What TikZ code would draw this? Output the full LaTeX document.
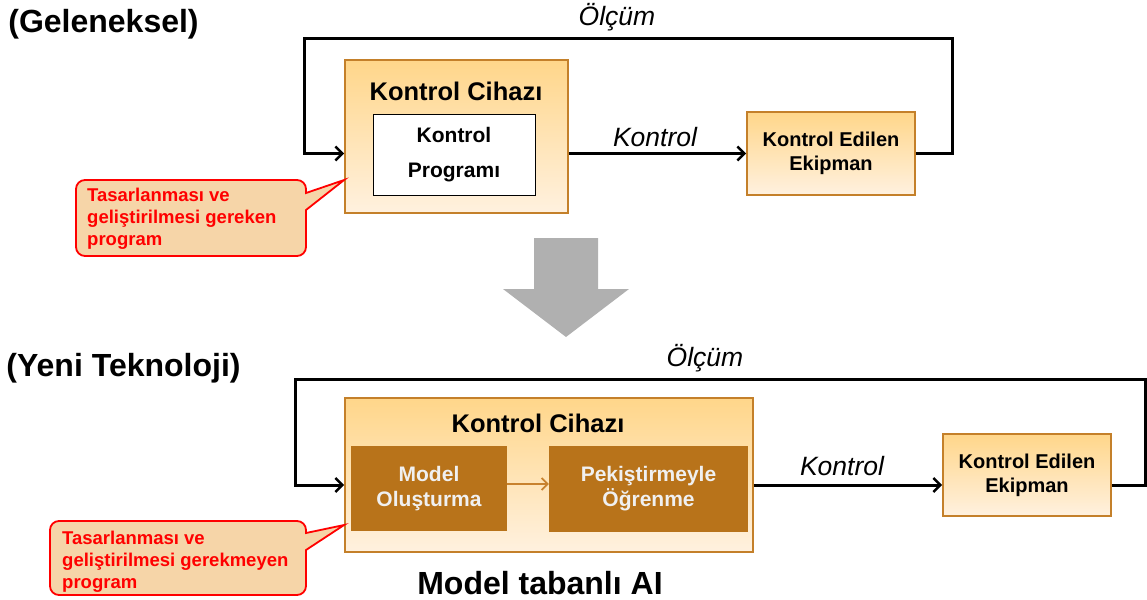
\documentclass[tikz,border=0pt]{standalone}
\usepackage{fontspec}
\setmainfont{Liberation Sans}
\usetikzlibrary{arrows.meta}
\definecolor{boxtop}{HTML}{FFD68A}
\definecolor{boxbot}{HTML}{FFF1DF}
\definecolor{boxline}{HTML}{C4802A}
\definecolor{darkbox}{HTML}{B8731A}
\definecolor{darktext}{HTML}{F0F0F0}
\definecolor{innerarrow}{HTML}{C8822E}
\definecolor{calloutfill}{HTML}{F6D5A8}
\definecolor{calloutred}{HTML}{FF0000}
\definecolor{bigarrow}{HTML}{B0B0B0}
\begin{document}
\begin{tikzpicture}[x=1pt,y=-1pt,
  orangebox/.style={draw=boxline, line width=1.8pt, top color=boxtop, bottom color=boxbot, inner sep=0pt},
  whitebox/.style={draw=black, line width=1pt, fill=white, inner sep=0pt, align=center, font=\fontsize{21}{35}\bfseries\selectfont},
  darkbox/.style={fill=darkbox, draw=none, inner sep=0pt, align=center, text=darktext, font=\fontsize{21}{25}\bfseries\selectfont},
  eqtext/.style={align=center, font=\fontsize{20}{24}\bfseries\selectfont},
  boxtitle/.style={font=\fontsize{25.5}{30}\bfseries\selectfont},
  sectitle/.style={font=\fontsize{32}{38}\bfseries\selectfont},
  itlabel/.style={font=\fontsize{26.5}{30}\itshape\selectfont},
  flowline/.style={draw=black, line width=3pt, -{Straight Barb[length=7pt,width=14pt,line width=2.4pt]}},
  callouttext/.style={align=left, anchor=west, text=calloutred, inner sep=0pt, font=\fontsize{18.5}{22}\bfseries\selectfont},
  calloutshape/.style={draw=calloutred, fill=calloutfill, line width=1.8pt, line join=miter}
]
\useasboundingbox (0,0) rectangle (1147,599);

% ===== Traditional =====
\node[sectitle] (t1) at (103.5,24) {(Geleneksel)};

\node[orangebox, minimum width=223pt, minimum height=153pt] (box1) at (456.5,136.5) {};
\node[boxtitle] (box1t) at (456,91) {Kontrol Cihazı};
\node[whitebox, minimum width=162pt, minimum height=80pt] (prog) at (454,155) {Kontrol\\Programı};

\node[orangebox, eqtext, minimum width=168pt, minimum height=83pt] (eq1) at (831,153.5) {Kontrol Edilen\\Ekipman};

\coordinate (r1) at (952,39);
\coordinate (l1) at (304,39);
\draw[flowline] (box1.east |- eq1.west) -- (eq1.west);
\draw[flowline] (eq1.east) -| (r1) -- (l1) |- (box1.west |- eq1.west);
\node[itlabel] (ol1) at (617,17) {Ölçüm};
\node[itlabel] (k1) at (655,137) {Kontrol};

% callout 1
\draw[calloutshape]
  [rounded corners=9pt] (76,180) -- (306,180) [sharp corners] -- (306,193)
  -- (box1.west |- 0,180) -- (306,210)
  [rounded corners=9pt] -- (306,256) -- (76,256) -- cycle;
\node[callouttext] (ct1) at (87,219) {Tasarlanması ve\\geliştirilmesi gereken\\program};

% big arrow
\fill[bigarrow] (534,238) -- (598,238) -- (598,289) -- (629,289) -- (566,337) -- (503,289) -- (534,289) -- cycle;

% ===== New technology =====
\node[sectitle] (t2) at (123.5,368) {(Yeni Teknoloji)};

\node[orangebox, minimum width=408pt, minimum height=154pt] (box2) at (549,475) {};
\node[boxtitle] (box2t) at (538,423) {Kontrol Cihazı};
\node[darkbox, minimum width=156pt, minimum height=85pt] (mo) at (429,488.5) {Model\\Oluşturma};
\node[darkbox, minimum width=199pt, minimum height=86pt] (pe) at (648.5,489) {Pekiştirmeyle\\Öğrenme};
\coordinate (c2) at (700,484);
\draw[draw=innerarrow, line width=2pt, -{Straight Barb[length=6pt,width=12pt,line width=1.8pt]}] (mo.east |- c2) -- (pe.west |- c2);

\node[orangebox, eqtext, minimum width=168pt, minimum height=82pt] (eq2) at (1027,475) {Kontrol Edilen\\Ekipman};

\coordinate (c3) at (900,485);
\coordinate (r2) at (1145,379);
\coordinate (l2) at (295,379);
\draw[flowline] (box2.east |- c3) -- (eq2.west |- c3);
\draw[flowline] (eq2.east |- c3) -| (r2) -- (l2) |- (box2.west |- c3);
\node[itlabel] (ol2) at (705,358) {Ölçüm};
\node[itlabel] (k2) at (842,466) {Kontrol};

\node[sectitle] (mai) at (540,583) {Model tabanlı AI};

% callout 2
\draw[calloutshape]
  [rounded corners=9pt] (50,521) -- (306,521) [sharp corners] -- (306,533)
  -- (box2.west |- 0,525) -- (306,550)
  [rounded corners=9pt] -- (306,595) -- (50,595) -- cycle;
\node[callouttext] (ct2) at (62,562) {Tasarlanması ve\\geliştirilmesi gerekmeyen\\program};
\end{tikzpicture}
\end{document}
